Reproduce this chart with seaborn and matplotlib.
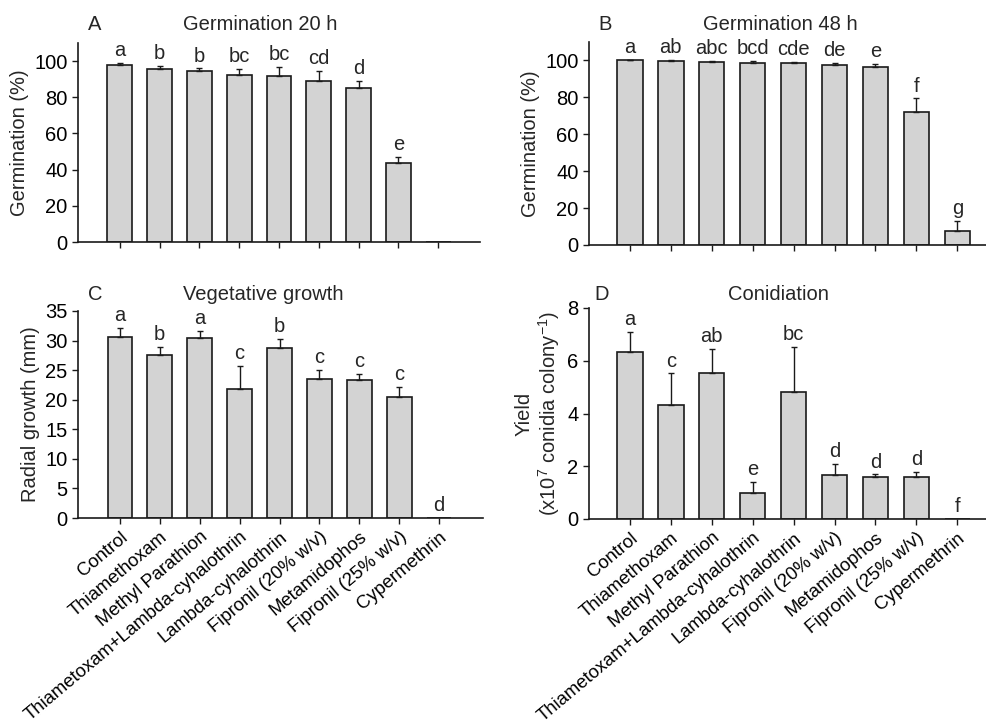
import matplotlib
matplotlib.use("Agg")
import matplotlib.pyplot as plt
import seaborn as sns
import pandas as pd

categories = ["Control", "Thiamethoxam", "Methyl Parathion",
              "Thiametoxam+Lambda-cyhalothrin", "Lambda-cyhalothrin",
              "Fipronil (20% w/v)", "Metamidophos", "Fipronil (25% w/v)",
              "Cypermethrin"]

germ20_vals = [98.0, 95.8, 94.5, 92.2, 91.5, 89.2, 85.2, 43.5, 0.0]
germ20_err = [1.0, 1.5, 1.5, 3.5, 5.5, 5.5, 4.0, 3.5, 0.0]
germ20_lab = ["a", "b", "b", "bc", "bc", "cd", "d", "e", ""]

germ48_vals = [100.0, 99.8, 99.3, 98.7, 98.6, 97.5, 96.5, 72.0, 7.5]
germ48_err = [0.2, 0.5, 0.5, 1.0, 0.5, 1.0, 1.8, 7.5, 5.5]
germ48_lab = ["a", "ab", "abc", "bcd", "cde", "de", "e", "f", "g"]

veg_vals = [30.6, 27.6, 30.4, 21.8, 28.7, 23.5, 23.3, 20.5, 0.0]
veg_err = [1.6, 1.3, 1.3, 3.9, 1.6, 1.6, 1.1, 1.7, 0.0]
veg_lab = ["a", "b", "a", "c", "b", "c", "c", "c", "d"]

con_vals = [6.34, 4.32, 5.52, 0.98, 4.80, 1.66, 1.60, 1.59, 0.0]
con_err = [0.75, 1.20, 0.92, 0.42, 1.74, 0.43, 0.09, 0.21, 0.0]
con_lab = ["a", "c", "ab", "e", "bc", "d", "d", "d", "f"]

sns.set_theme(style="ticks")
plt.rcParams["font.family"] = ["Liberation Sans", "DejaVu Sans"]
plt.rcParams["mathtext.fontset"] = "custom"
plt.rcParams["mathtext.rm"] = "Liberation Sans"
plt.rcParams["mathtext.it"] = "Liberation Sans:italic"

FS = 14.5
fig = plt.figure(figsize=(9.86, 7.24), dpi=100)

W, H = 986.0, 724.0
def axes_px(l, r, t, b):
    return fig.add_axes([l / W, (H - b) / H, (r - l) / W, (b - t) / H])

axA = axes_px(78, 480, 43, 242)
axB = axes_px(589, 986, 42, 245)
axC = axes_px(78, 483, 311, 518)
axD = axes_px(589, 986, 308, 519)

panels = [
    (axA, germ20_vals, germ20_err, germ20_lab, (0, 110), list(range(0, 101, 20)),
     "Germination (%)", False, (-1.05, 9.05)),
    (axB, germ48_vals, germ48_err, germ48_lab, (0, 110), list(range(0, 101, 20)),
     "Germination (%)", False, (-1.0, 8.7)),
    (axC, veg_vals, veg_err, veg_lab, (0, 35), list(range(0, 36, 5)),
     "Radial growth (mm)", True, (-1.05, 9.1)),
    (axD, con_vals, con_err, con_lab, (0, 8), list(range(0, 9, 2)),
     "Yield\n(x10$^{7}$ conidia colony$^{-1}$)", True, (-1.0, 8.7)),
]

for ax, vals, errs, labs, ylim, yticks, ylabel, show_x, xlim in panels:
    df = pd.DataFrame({"cat": categories, "val": vals})
    sns.barplot(data=df, x="cat", y="val", color="#d3d3d3", saturation=1,
                edgecolor="#1a1a1a", linewidth=1.2, width=0.62, ax=ax)
    for bar, e, lab in zip(ax.patches, errs, labs):
        xc = bar.get_x() + bar.get_width() / 2
        h = bar.get_height()
        if e > 0:
            ax.errorbar(xc, h, yerr=[[0], [e]], fmt="none", ecolor="#1a1a1a",
                        elinewidth=1.0, capsize=2.5, capthick=1.0)
        if lab:
            ax.annotate(lab, (xc, h + e), xytext=(0, 2), textcoords="offset points",
                        ha="center", va="bottom", fontsize=FS)
    ax.set_ylim(*ylim)
    ax.set_yticks(yticks)
    ax.set_xlim(*xlim)
    ax.set_xlabel("")
    ax.set_ylabel(ylabel, fontsize=FS, linespacing=1.1)
    for s in ["top", "right"]:
        ax.spines[s].set_visible(False)
    for s in ["left", "bottom"]:
        ax.spines[s].set_linewidth(1.2)
        ax.spines[s].set_color("#1a1a1a")
    ax.tick_params(axis="both", direction="out", length=4, width=1.0,
                   colors="#1a1a1a", labelcolor="black", labelsize=FS)
    ax.set_xticks(range(len(categories)))
    if show_x:
        ax.set_xticklabels(categories, rotation=40, ha="right",
                           rotation_mode="anchor", fontsize=13.3)
    else:
        ax.set_xticklabels([""] * len(categories))
    ax.set_facecolor("white")

def ftxt(x, y, s):
    fig.text(x / W, (H - y) / H, s, ha="center", va="center", fontsize=FS)

ftxt(95, 25, "A"); ftxt(260, 25, "Germination 20 h")
ftxt(605, 25, "B"); ftxt(780, 25, "Germination 48 h")
ftxt(95, 295, "C"); ftxt(263, 295, "Vegetative growth")
ftxt(602, 295, "D"); ftxt(778, 295, "Conidiation")

fig.savefig("out.png", dpi=100, facecolor="white")
